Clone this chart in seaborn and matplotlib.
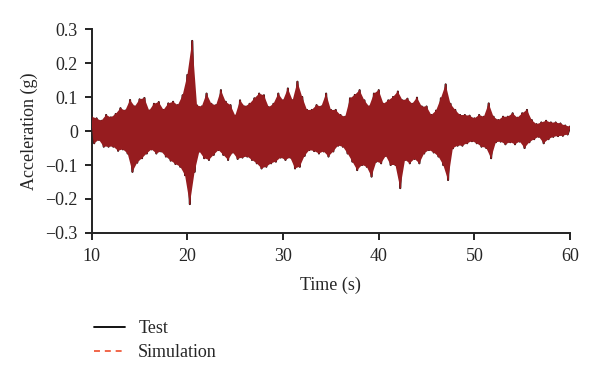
import numpy as np
import pandas as pd
import matplotlib.pyplot as plt
from matplotlib.lines import Line2D
import seaborn as sns

# peak accelerations (g), upper peaks every 0.5 s from 10 s,
# lower peaks every 0.5 s from 10.25 s
test_up = [0.042, 0.037, 0.030, 0.047, 0.040, 0.050, 0.067, 0.060, 0.091, 0.072,
           0.093, 0.097, 0.060, 0.080, 0.085, 0.062, 0.081, 0.086, 0.076, 0.105,
           0.165, 0.265, 0.075, 0.072, 0.110, 0.080, 0.076, 0.120, 0.086, 0.076,
           0.045, 0.090, 0.072, 0.080, 0.096, 0.110, 0.105, 0.070, 0.080, 0.110,
           0.090, 0.125, 0.090, 0.145, 0.100, 0.062, 0.062, 0.076, 0.072, 0.110,
           0.062, 0.062, 0.047, 0.042, 0.096, 0.106, 0.120, 0.090, 0.072, 0.110,
           0.120, 0.080, 0.090, 0.100, 0.116, 0.090, 0.095, 0.080, 0.098, 0.072,
           0.072, 0.047, 0.060, 0.096, 0.137, 0.080, 0.062, 0.047, 0.047, 0.045,
           0.037, 0.047, 0.042, 0.081, 0.042, 0.032, 0.042, 0.042, 0.052, 0.039,
           0.052, 0.062, 0.032, 0.020, 0.025, 0.030, 0.025, 0.025, 0.022, 0.016,
           0.013]
test_lo = [-0.036, -0.026, -0.046, -0.046, -0.046, -0.058, -0.054, -0.066, -0.120, -0.093,
           -0.080, -0.066, -0.054, -0.066, -0.060, -0.075, -0.087, -0.097, -0.105, -0.130,
           -0.215, -0.120, -0.060, -0.080, -0.085, -0.070, -0.056, -0.070, -0.085, -0.063,
           -0.082, -0.078, -0.075, -0.085, -0.095, -0.110, -0.105, -0.095, -0.090, -0.078,
           -0.085, -0.078, -0.110, -0.105, -0.073, -0.056, -0.059, -0.066, -0.060, -0.075,
           -0.060, -0.043, -0.046, -0.066, -0.090, -0.115, -0.100, -0.105, -0.134, -0.090,
           -0.095, -0.073, -0.100, -0.100, -0.168, -0.085, -0.095, -0.082, -0.095, -0.066,
           -0.056, -0.063, -0.075, -0.100, -0.144, -0.051, -0.043, -0.043, -0.036, -0.030,
           -0.036, -0.046, -0.050, -0.080, -0.033, -0.031, -0.039, -0.033, -0.039, -0.031,
           -0.050, -0.033, -0.024, -0.017, -0.036, -0.024, -0.017, -0.015, -0.014, -0.010]
# simulation lies on top of the test record at this scale
sim_up = list(test_up)
sim_lo = list(test_lo)

x_ticks = [10, 20, 30, 40, 50, 60]
y_ticks = [-0.3, -0.2, -0.1, 0, 0.1, 0.2, 0.3]
y_labels = ['\u22120.3', '\u22120.2', '\u22120.1', '0', '0.1', '0.2', '0.3']

RED = '#961c1f'


def trace(up, lo):
    t = np.empty(len(up) + len(lo))
    a = np.empty(len(up) + len(lo))
    t[0::2] = 10 + 0.5 * np.arange(len(up))
    t[1::2] = 10.25 + 0.5 * np.arange(len(lo))
    a[0::2] = up
    a[1::2] = lo
    return pd.DataFrame({'time': t, 'acc': a})


def main():
    sns.set_style('ticks')
    plt.rcParams['font.family'] = ['Liberation Serif', 'DejaVu Serif']
    plt.rcParams['font.size'] = 13

    fig = plt.figure(figsize=(6, 3.77), dpi=100)
    ax = fig.add_axes([0.153, 0.382, 0.797, 0.541])

    test = trace(test_up, test_lo)
    sim = trace(sim_up, sim_lo)

    sns.lineplot(x='time', y='acc', data=test, ax=ax,
                 color='black', lw=1.5, estimator=None, sort=False, zorder=2)
    # the dense oscillation between the peaks renders as a solid band
    t_up = 10 + 0.5 * np.arange(len(sim_up))
    t_lo = 10.25 + 0.5 * np.arange(len(sim_lo))
    ax.fill(np.concatenate([t_up, t_lo[::-1]]),
            np.concatenate([sim_up, sim_lo[::-1]]),
            color=RED, lw=0, zorder=2.5)
    sns.lineplot(x='time', y='acc', data=sim, ax=ax,
                 color=RED, lw=1.1, estimator=None, sort=False, zorder=3)

    ax.set_xlim(10, 60)
    ax.set_ylim(-0.3, 0.3)
    ax.set_xticks(x_ticks)
    ax.set_xticklabels([str(v) for v in x_ticks])
    ax.set_yticks(y_ticks)
    ax.set_yticklabels(y_labels)
    ax.set_xlabel('Time (s)', labelpad=8)
    ax.set_ylabel('Acceleration (g)', labelpad=5)
    sns.despine(ax=ax)
    for s in ['left', 'bottom']:
        ax.spines[s].set_linewidth(1.4)
        ax.spines[s].set_color('#222222')
    ax.tick_params(length=5, width=1.4, color='#222222', labelsize=13, pad=5)
    ax.tick_params(axis='x', pad=6)

    handles = [Line2D([], [], color='black', lw=1.3),
               Line2D([], [], color='#f05a3c', lw=1.3, ls=(0, (3.3, 2.7)))]
    fig.legend(handles, ['Test', 'Simulation'], loc='center left',
               bbox_to_anchor=(0.129, 0.097), frameon=False, fontsize=13,
               handlelength=1.75, handletextpad=0.72, labelspacing=0.4)

    fig.savefig('out.png', dpi=100)


if __name__ == '__main__':
    main()
